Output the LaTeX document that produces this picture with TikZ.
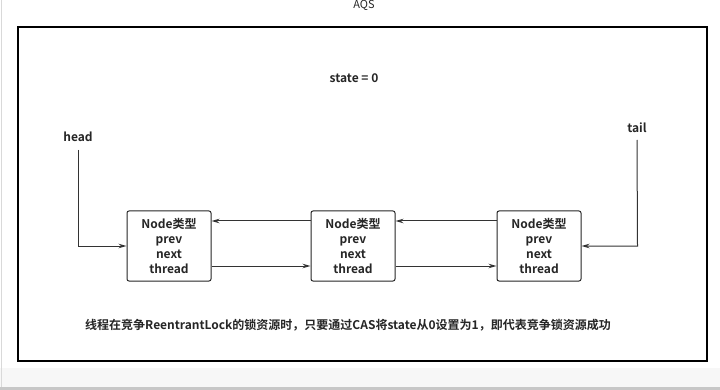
\documentclass[tikz,border=0pt]{standalone}
\usepackage{fontspec}
\setmainfont{Noto Sans CJK SC}[BoldFont={Noto Sans CJK SC Bold}]
\usetikzlibrary{arrows.meta}
\begin{document}
\begin{tikzpicture}[x=1pt,y=-1pt,
  lbl/.style={font=\bfseries\fontsize{12}{14}\selectfont, text=black!85, inner sep=0pt},
  qnode/.style={draw=black!85, line width=1pt, rounded corners=2pt, minimum width=84pt,
    minimum height=70pt, align=center, font=\bfseries\fontsize{12}{15}\selectfont, text=black!85, inner sep=0pt},
  link/.style={draw=black!80, line width=1pt, -{Stealth[length=8pt,width=4.5pt]}}]
  \useasboundingbox (0,0) rectangle (720,390);
  \fill[white] (0,0) rectangle (720,390);
  \fill[black!3] (0,368) rectangle (720,387);
  \fill[black!22] (0,387) rectangle (720,390);
  \draw[black!15, line width=0.6pt] (1.5,0) -- (1.5,387);
  % title above the frame
  \node[lbl, font=\fontsize{11}{13}\selectfont, anchor=north] (title) at (364,0.5) {AQS};
  % frame
  \draw[black, line width=1.2pt] (18,27) rectangle (707,361);
  \node[lbl] (state) at (354,78) {state = 0};
  \node[lbl] (head) at (78,137) {head};
  \node[lbl] (tail) at (637,128) {tail};
  % queue nodes
  \node[qnode] (n1) at (169,246) {Node类型\\prev\\next\\thread};
  \node[qnode] (n2) at (353,246) {Node类型\\prev\\next\\thread};
  \node[qnode] (n3) at (539,246) {Node类型\\prev\\next\\thread};
  % prev / next links
  \draw[link] (n2.west |- 0,221) -- (n1.east |- 0,221);
  \draw[link] (n3.west |- 0,221) -- (n2.east |- 0,221);
  \draw[link] (n1.east |- 0,266) -- (n2.west |- 0,266);
  \draw[link] (n2.east |- 0,266) -- (n3.west |- 0,266);
  % head and tail pointers
  \coordinate (hc) at (78,246);
  \coordinate (tc) at (637.5,246);
  \draw[link] (head.south |- 0,150) -- (hc) -- (n1.west |- hc);
  \draw[link] (tail.south |- 0,140) -- (tc) -- (n3.east |- tc);
  \node[lbl] (note) at (348,325) {线程在竞争ReentrantLock的锁资源时，只要通过CAS将state从0设置为1，即代表竞争锁资源成功};
\end{tikzpicture}
\end{document}
